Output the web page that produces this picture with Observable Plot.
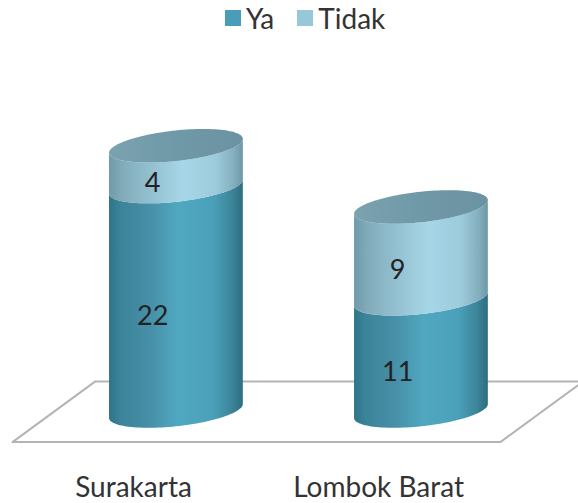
<!DOCTYPE html>
<html><head><meta charset="utf-8">
<script src="https://cdn.jsdelivr.net/npm/d3@7"></script>
<script src="https://cdn.jsdelivr.net/npm/@observablehq/plot@0.6"></script>
<style>
html,body{margin:0;background:#fff;width:578px;height:503px;overflow:hidden}
#legend{height:36px;position:relative;font:28px Lato,sans-serif;color:#333;display:flex;justify-content:flex-start;align-items:center;padding-left:225px;box-sizing:border-box}
#legend i{display:inline-block;width:16px;height:16px;margin-right:5px}
#legend span{margin-right:23px}
svg{display:block}
</style></head><body>
<div id="legend"></div>
<div id="chart"></div>
<script>
const categories = ["Surakarta", "Lombok Barat"];
const ya = [22, 11];
const tidak = [4, 9];
const seriesNames = ["Ya", "Tidak"];
const seriesColors = ["#4a9db6", "#97c8da"];
const floorRange = [-3.0, 2.95];

const halfWidth = 0.273, tilt = 0.68, depth = 1.5;
const labelDx = -0.097, labelDy = -1.65, W = 578, H = 467;
const legend = document.getElementById("legend");
seriesNames.forEach((n, i) => {
  legend.insertAdjacentHTML("beforeend", `<i style="background:${seriesColors[i]}"></i><span>${n}</span>`);
});
const xs = d3.range(0, 61).map(i => -Math.cos(i / 60 * Math.PI));
const edge = (v, u, sign) => v + tilt * u + sign * depth * Math.sqrt(Math.max(0, 1 - u * u));
const seg = [], tops = [], labels = [];
categories.forEach((c, i) => {
  const stack = [[0, ya[i], "a"], [ya[i], ya[i] + tidak[i], "b"]];
  stack.forEach(([lo, hi, k], j) => {
    labels.push({x: i + labelDx, y: (lo + hi) / 2 + labelDy, t: j ? tidak[i] : ya[i]});
    for (const u of xs) seg.push({k: k + i, s: k, x: i + u * halfWidth, y1: edge(lo, u, -1), y2: edge(hi, u, -1)});
  });
  for (const u of xs) tops.push({k: i, x: i + u * halfWidth, y1: edge(ya[i] + tidak[i], u, -1), y2: edge(ya[i] + tidak[i], u, 1)});
});
const gradDefs = () => {
  const mk = (id, stops) => `<linearGradient id="${id}" x1="0" x2="1" y1="0" y2="0">` +
    stops.map(([o, c]) => `<stop offset="${o}" stop-color="${c}"/>`).join("") + `</linearGradient>`;
  const g = d3.create("svg:defs");
  g.html(
    mk("ga", [[0,"#2f7488"],[.08,"#3a8398"],[.3,"#468fa7"],[.52,"#50a8c0"],[.78,"#4aa0b8"],[.92,"#3c8499"],[1,"#2d6d80"]]) +
    mk("gb", [[0,"#6f9aa9"],[.1,"#81abb9"],[.3,"#92bfcf"],[.55,"#a6d6e7"],[.8,"#9ccbdc"],[.93,"#84afbe"],[1,"#6c97a6"]]) +
    mk("gt", [[0,"#7aa2af"],[.5,"#7099a8"],[1,"#6b92a1"]])
  );
  return g.node();
};
const floor = [
  {x: -0.669, y: floorRange[0]}, {x: -0.331, y: floorRange[1]},
  {x: 1.661, y: floorRange[1]}, {x: 1.322, y: floorRange[0]}, {x: -0.669, y: floorRange[0]}
];
const chart = Plot.plot({
  width: W, height: H, margin: 0,
  x: {domain: [-0.718, 1.641], range: [0, W], axis: null},
  y: {domain: [-9.02, 36.76], range: [H, 0], axis: null},
  marks: [
    gradDefs,
    Plot.line(floor, {x: "x", y: "y", stroke: "#b4b4b4", strokeWidth: 2, curve: "linear"}),
    Plot.areaY(seg.filter(d => d.s === "a"), {x: "x", y1: "y1", y2: "y2", z: "k", fill: "url(#ga)", curve: "linear"}),
    Plot.areaY(seg.filter(d => d.s === "b"), {x: "x", y1: "y1", y2: "y2", z: "k", fill: "url(#gb)", curve: "linear"}),
    Plot.areaY(tops, {x: "x", y1: "y1", y2: "y2", z: "k", fill: "url(#gt)", curve: "linear"}),
    Plot.text(labels, {x: "x", y: "y", text: "t", fontSize: 27, fill: "#222", fontFamily: "Lato, sans-serif"}),
    Plot.text(categories, {x: (d, i) => i - 0.175, y: () => -7.55, text: d => d, fontSize: 28, fill: "#333", fontFamily: "Lato, sans-serif"})
  ]
});
document.getElementById("chart").append(chart);
</script>
</body></html>
